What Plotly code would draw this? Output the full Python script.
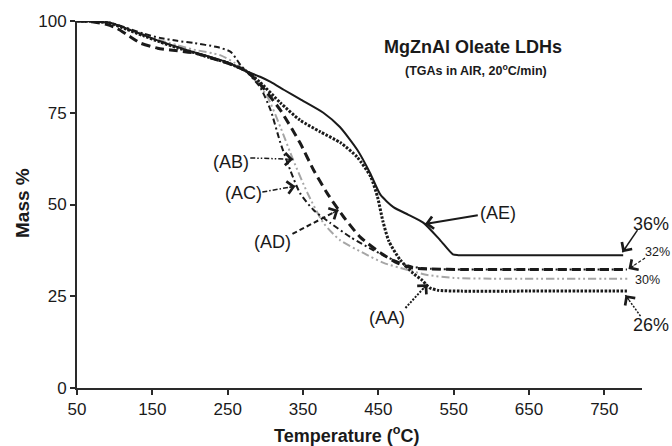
import math
import plotly.graph_objects as go

# ---------------- data ----------------
ae_t = [50, 70, 94, 115, 138, 160, 183, 205, 227, 250, 275, 293, 307, 325, 346, 377, 399, 422, 439, 453, 470, 490, 510, 532, 549, 556, 650, 775]
ae_m = [100, 99.9, 99.5, 98.0, 96.2, 94.5, 92.9, 91.5, 90.2, 88.7, 86.3, 84.8, 83.4, 81.2, 78.7, 75.0, 71.1, 64.9, 58.6, 52.6, 49.3, 47.2, 45.0, 40.3, 36.4, 36.2, 36.2, 36.2]

aa_t = [50, 70, 94, 115, 138, 160, 183, 205, 227, 250, 275, 293, 320, 346, 373, 400, 422, 440, 449, 456, 464, 479, 496, 508, 518, 530, 560, 650, 780]
aa_m = [100, 99.9, 99.4, 97.8, 96.0, 94.3, 92.7, 91.4, 90.0, 88.6, 86.3, 83.3, 77.7, 73.0, 69.8, 66.8, 62.9, 57.5, 52.0, 45.5, 40.0, 34.9, 31.3, 29.4, 27.3, 26.6, 26.4, 26.4, 26.4]

ad_t = [50, 70, 90, 103, 117, 134, 157, 174, 205, 227, 250, 275, 293, 320, 346, 364, 382, 404, 426, 453, 475, 496, 520, 560, 650, 780]
ad_m = [100, 99.8, 99.0, 98.0, 96.2, 94.0, 92.6, 92.1, 91.3, 90.0, 88.5, 86.3, 82.8, 75.7, 66.8, 59.4, 53.1, 46.6, 41.1, 36.8, 34.1, 32.7, 32.4, 32.3, 32.3, 32.3]

ac_t = [50, 70, 94, 115, 138, 160, 183, 205, 236, 254, 267, 276, 293, 307, 320, 333, 346, 364, 386, 413, 443, 470, 496, 520, 560, 650, 780]
ac_m = [100, 99.9, 99.5, 98.2, 96.6, 95.4, 94.6, 94.0, 92.9, 91.6, 88.0, 86.0, 82.0, 75.7, 66.8, 59.4, 53.1, 48.5, 45.0, 41.1, 37.6, 34.9, 33.0, 32.5, 32.3, 32.3, 32.3]

ab_t = [50, 70, 94, 115, 138, 160, 183, 205, 240, 260, 275, 290, 303, 320, 337, 356, 377, 399, 430, 457, 488, 515, 550, 600, 784]
ab_m = [100, 99.9, 99.4, 98.0, 96.4, 94.8, 93.4, 92.2, 90.7, 88.5, 86.3, 83.0, 79.3, 71.1, 62.1, 53.1, 45.0, 40.3, 36.8, 34.1, 32.2, 30.8, 30.0, 29.8, 29.8]

x_ticks = [50, 150, 250, 350, 450, 550, 650, 750]
y_ticks = [0, 25, 50, 75, 100]

FONT = "Liberation Sans, Arial, sans-serif"
INK = "#1a1a1a"

fig = go.Figure()

def add(t, m, color, width, dash):
    fig.add_trace(go.Scatter(x=t, y=m, mode="lines",
                             line=dict(color=color, width=width, dash=dash, shape="spline", smoothing=0.6),
                             showlegend=False, hoverinfo="skip"))

add(ab_t, ab_m, "#a6a6a6", 2, "8px,3px,2px,3px,2px,3px")
add(ac_t, ac_m, INK, 2, "6px,3px,2px,3px")
add(ad_t, ad_m, INK, 3, "9px,5px")
add(aa_t, aa_m, INK, 3, "2.5px,1.5px")
add(ae_t, ae_m, INK, 2, "solid")

# plot-area geometry
W, H = 672, 446
ML, MR, MT, MB = 77, 30, 21, 58
XR = (50, 800)
YR = (0, 100)
PW, PH = W - ML - MR, H - MT - MB

def px(t):
    return (t - XR[0]) / (XR[1] - XR[0])

def py(m):
    return (m - YR[0]) / (YR[1] - YR[0])

def arrow(x0, y0, x1, y1, dash, width=1.5):
    # shaft from (x0,y0) to tip (x1,y1), in data units, drawn in paper space (no clipping)
    fig.add_shape(type="line", x0=px(x0), y0=py(y0), x1=px(x1), y1=py(y1),
                  xref="paper", yref="paper",
                  line=dict(color=INK, width=width, dash=dash), layer="above")
    dx = (px(x0) - px(x1)) * PW
    dy = -(py(y0) - py(y1)) * PH
    L = math.hypot(dx, dy)
    fig.add_annotation(x=px(x1), y=py(y1), xref="paper", yref="paper", text="", showarrow=True,
                       ax=dx / L * 8, ay=dy / L * 8, arrowhead=4, arrowsize=2.0,
                       arrowwidth=1.2, arrowcolor=INK)

def label(x, y, text, size=18, bold=False):
    fig.add_annotation(x=px(x), y=py(y), xref="paper", yref="paper",
                       xanchor="center", yanchor="middle",
                       text=f"<b>{text}</b>" if bold else text,
                       showarrow=False, font=dict(family=FONT, size=size, color=INK))

label(255, 61.6, "(AB)")
arrow(280, 62.7, 337, 62.3, "5px,2px,1.5px,2px,1.5px,2px")
label(271, 53.1, "(AC)")
arrow(296, 53.4, 340, 55, "5px,2px,1.5px,2px")
label(309, 39.8, "(AD)")
arrow(336, 42, 397, 48.5, "5px,3px", 2)
label(461, 19.1, "(AA)")
arrow(486, 21.8, 515, 28.3, "2px,1.5px", 2)
label(609, 47.7, "(AE)")
arrow(582, 47.1, 512, 44.7, "solid", 2)

label(812, 44.7, "36%")
arrow(794, 43, 774, 37, "solid", 1.5)
label(820, 37, "32%", size=12.5)
arrow(804, 35.4, 782, 32.4, "3px,2px", 1.2)
label(807, 29.4, "30%", size=12.5)
label(812, 17.2, "26%")
arrow(798, 19.6, 778, 25.3, "2px,1.5px", 1.5)

label(576, 92.9, "MgZnAl Oleate LDHs", size=18, bold=True)
fig.add_annotation(x=px(580), y=py(86.6), xref="paper", yref="paper",
                   xanchor="center", yanchor="middle",
                   text="<b>(TGAs in AIR, 20<sup>o</sup>C/min)</b>", showarrow=False,
                   font=dict(family=FONT, size=12.5, color=INK))

# axis titles
fig.add_annotation(x=(346 - ML) / PW, y=-(434 - (H - MB)) / PH,
                   xref="paper", yref="paper", xanchor="center", yanchor="middle",
                   text="<b>Temperature (<sup>o</sup>C)</b>",
                   showarrow=False, font=dict(family=FONT, size=18, color=INK))
fig.add_annotation(x=(22 - ML) / PW, y=((H - MB) - 203) / PH,
                   xref="paper", yref="paper", xanchor="center", yanchor="middle",
                   text="<b>Mass %</b>", textangle=-90,
                   showarrow=False, font=dict(family=FONT, size=19, color=INK))

axis_common = dict(showline=True, linecolor="#2a2a2a", linewidth=2, showgrid=False,
                   zeroline=False, ticks="outside", ticklen=5, tickwidth=1.5,
                   tickcolor="#2a2a2a", tickfont=dict(family=FONT, size=17, color=INK))

fig.update_layout(
    width=W, height=H,
    margin=dict(l=ML, r=MR, t=MT, b=MB),
    paper_bgcolor="white", plot_bgcolor="white",
    xaxis=dict(range=list(XR), tickvals=x_ticks, **axis_common),
    yaxis=dict(range=list(YR), tickvals=y_ticks, **axis_common),
    showlegend=False,
)

fig.write_html("out.html")
